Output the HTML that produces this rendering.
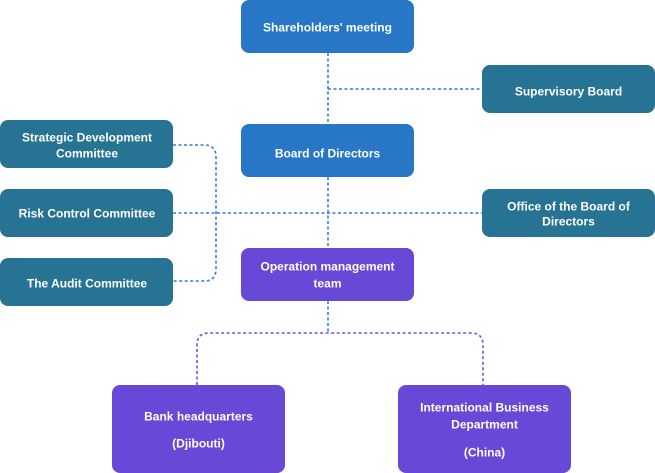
<!DOCTYPE html>
<html>
<head>
<meta charset="utf-8">
<style>
html,body{margin:0;padding:0;background:#fff;}
body{width:655px;height:473px;overflow:hidden;}
svg{display:block;}
text{font-family:"Liberation Sans",sans-serif;font-weight:bold;font-size:12px;fill:#fff;}
</style>
</head>
<body>
<svg width="655" height="473" viewBox="0 0 655 473" xmlns="http://www.w3.org/2000/svg">
  <!-- connectors -->
  <g fill="none" stroke="#2f7fd0" stroke-width="1.6" stroke-dasharray="3 2.5">
    <path d="M328,53 V124"/>
    <path d="M328,89 H482"/>
    <path d="M328,177 V248"/>
    <path d="M173,213 H482"/>
    <path d="M328,301 V333"/>
    <path d="M173,145 H204 Q216,145 216,157 V269 Q216,281 204,281 H173"/>
  </g>
  <g fill="none" stroke="#6e52dc" stroke-width="1.6" stroke-dasharray="3 2.5">
    <path d="M197,385 V345 Q197,333 209,333 H471 Q483,333 483,345 V385"/>
  </g>

  <!-- blue nodes -->
  <rect x="241" y="0" width="173" height="53" rx="8" fill="#2777c6"/>
  <text x="327.5" y="31.5" text-anchor="middle">Shareholders' meeting</text>

  <rect x="241" y="124" width="173" height="53" rx="8" fill="#2777c6"/>
  <text x="327.5" y="157.5" text-anchor="middle">Board of Directors</text>

  <!-- teal nodes -->
  <rect x="482" y="65" width="173" height="48" rx="8" fill="#277393"/>
  <text x="568.5" y="95.5" text-anchor="middle">Supervisory Board</text>

  <rect x="482" y="189" width="173" height="48" rx="8" fill="#277393"/>
  <text x="568.5" y="210.5" text-anchor="middle">Office of the Board of</text>
  <text x="568.5" y="225.5" text-anchor="middle">Directors</text>

  <rect x="0" y="120" width="173" height="48" rx="8" fill="#277393"/>
  <text x="87" y="141.5" text-anchor="middle">Strategic Development</text>
  <text x="87" y="157.5" text-anchor="middle">Committee</text>

  <rect x="0" y="189" width="173" height="48" rx="8" fill="#277393"/>
  <text x="87" y="217.5" text-anchor="middle">Risk Control Committee</text>

  <rect x="0" y="258" width="173" height="48" rx="8" fill="#277393"/>
  <text x="87" y="287.5" text-anchor="middle">The Audit Committee</text>

  <!-- purple nodes -->
  <rect x="241" y="248" width="173" height="53" rx="8" fill="#6848d6"/>
  <text x="327.5" y="270.5" text-anchor="middle">Operation management</text>
  <text x="327.5" y="287.5" text-anchor="middle">team</text>

  <rect x="112" y="385" width="173" height="88" rx="8" fill="#6848d6"/>
  <text x="198.5" y="420.5" text-anchor="middle">Bank headquarters</text>
  <text x="198.5" y="447.5" text-anchor="middle">(Djibouti)</text>

  <rect x="398" y="385" width="173" height="88" rx="8" fill="#6848d6"/>
  <text x="484.5" y="411.5" text-anchor="middle">International Business</text>
  <text x="484.5" y="428.5" text-anchor="middle">Department</text>
  <text x="484.5" y="456.5" text-anchor="middle">(China)</text>
</svg>
</body>
</html>
